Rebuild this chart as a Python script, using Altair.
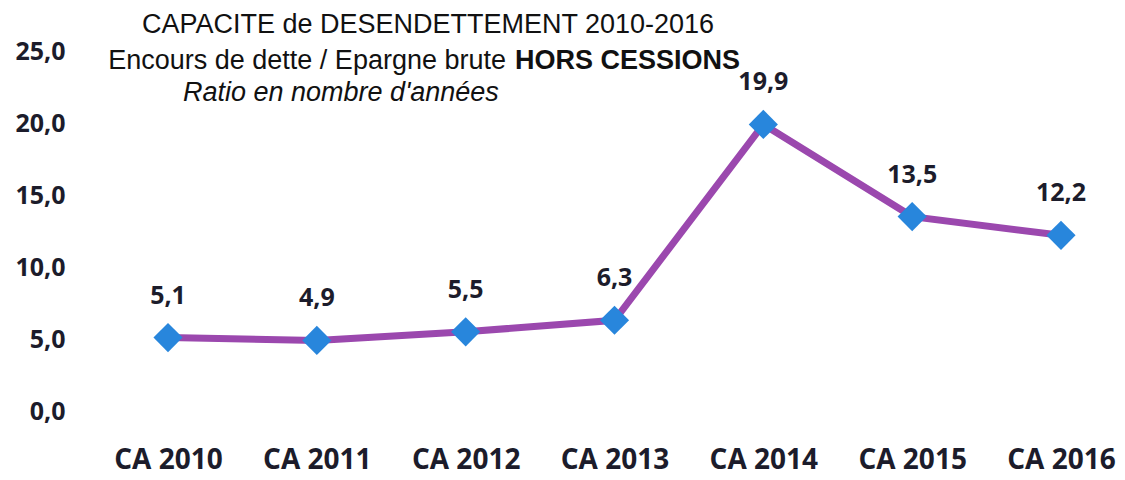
import altair as alt
import pandas as pd

categories = ["CA 2010", "CA 2011", "CA 2012", "CA 2013", "CA 2014", "CA 2015", "CA 2016"]
ratios = [5.1, 4.9, 5.5, 6.3, 19.9, 13.5, 12.2]
y_ticks = [0, 5, 10, 15, 20, 25]

df = pd.DataFrame({"cat": categories, "val": ratios})

TXT = "#1c1c2b"
FONT_B = "Open Sans"

x_enc = alt.X("cat:N", sort=categories,
              scale=alt.Scale(type="point", padding=0.336),
              axis=alt.Axis(title=None, labelAngle=0, labelFont=FONT_B, labelFontWeight="bold",
                            labelFontSize=28, labelColor=TXT, ticks=False, domain=False,
                            labelPadding=35, grid=False))
y_enc = alt.Y("val:Q", scale=alt.Scale(domain=[0, 25], nice=False),
              axis=alt.Axis(title=None, values=y_ticks, grid=False, domain=False, ticks=False,
                            labelExpr="replace(format(datum.value, '.1f'), '.', ',')",
                            labelFont=FONT_B, labelFontWeight="bold", labelFontSize=25,
                            labelColor=TXT, labelPadding=53))

base = alt.Chart(df).encode(x=x_enc, y=y_enc)

line = base.mark_line(color="#9b48ae", strokeWidth=7)
points = base.mark_point(shape="diamond", filled=True, size=850, color="#2886dc", opacity=1)
labels = base.transform_calculate(
    lab="replace(format(datum.val, '.1f'), '.', ',')"
).mark_text(font=FONT_B, fontWeight="bold", fontSize=25, color=TXT,
            baseline="bottom", dy=-29).encode(text="lab:N")

def title_text(txt, x, y, align="center", weight="normal", style="normal"):
    return alt.Chart(pd.DataFrame({"t": [txt]})).mark_text(
        font="Liberation Sans", fontSize=27, color="#111111", align=align,
        baseline="middle", fontWeight=weight, fontStyle=style
    ).encode(text="t:N", x=alt.value(x), y=alt.value(y))

t1 = title_text("CAPACITE de DESENDETTEMENT 2010-2016", 310, -26)
t2a = title_text("Encours de dette / Epargne brute", 388, 10, align="right")
t2b = title_text("HORS CESSIONS", 397, 10, align="left", weight="bold")
t3 = title_text("Ratio en nombre d'années", 65, 42, align="left", style="italic")

chart = alt.layer(line, points, labels, t1, t2a, t2b, t3).properties(
    width=993, height=360,
    autosize=alt.AutoSizeParams(type="none"),
    padding={"left": 110, "top": 43, "right": 6, "bottom": 64},
    background="white",
).configure_view(strokeWidth=0, stroke=None)

chart.save("out.html", embed_options={"renderer": "svg", "actions": False})
